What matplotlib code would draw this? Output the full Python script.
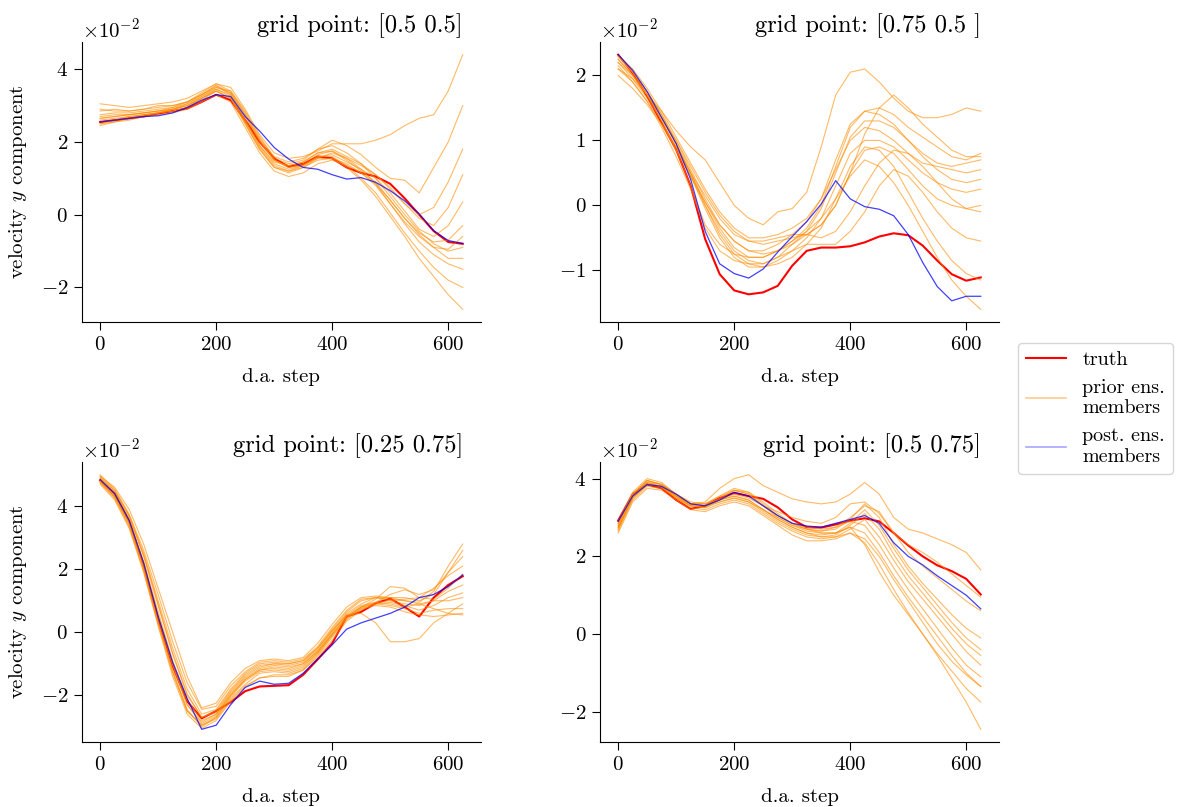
import numpy as np
import matplotlib
matplotlib.use("Agg")
import matplotlib.pyplot as plt
from matplotlib.lines import Line2D

plt.rcParams["font.family"] = "serif"
plt.rcParams["font.serif"] = ["cmr10"]
plt.rcParams["mathtext.fontset"] = "cm"
plt.rcParams["axes.formatter.use_mathtext"] = True
plt.rcParams["axes.unicode_minus"] = True

# d.a. steps (values read every 25 steps), velocities in units of 1e-2
steps = np.arange(0, 626, 25)

titles = ["grid point: [0.5 0.5]", "grid point: [0.75 0.5 ]",
          "grid point: [0.25 0.75]", "grid point: [0.5 0.75]"]
yticks = [[-2, 0, 2, 4], [-1, 0, 1, 2], [-2, 0, 2, 4], [-2, 0, 2, 4]]

# ---- grid point [0.5 0.5]
truth_a = [2.55, 2.6, 2.65, 2.7, 2.78, 2.85, 2.92, 3.1, 3.3, 3.15, 2.6, 2.0, 1.55,
           1.32, 1.4, 1.6, 1.55, 1.3, 1.15, 1.05, 0.85, 0.45, 0.0, -0.45, -0.75, -0.8]
post_a = [2.55, 2.6, 2.65, 2.7, 2.72, 2.8, 2.95, 3.15, 3.3, 3.25, 2.7, 2.3, 1.85,
          1.53, 1.3, 1.25, 1.1, 0.98, 1.02, 0.89, 0.66, 0.38, 0.02, -0.44, -0.71, -0.79]
prior_a = [
    [3.05, 3.0, 2.95, 3.0, 3.05, 3.1, 3.2, 3.4, 3.6, 3.5, 2.9, 2.2, 1.7, 1.55, 1.6, 1.75, 1.95, 1.95, 1.95, 2.05, 2.2, 2.45, 2.65, 2.75, 3.4, 4.4],
    [2.85, 2.9, 2.85, 2.9, 3.0, 3.0, 3.1, 3.3, 3.5, 3.4, 2.8, 2.1, 1.6, 1.45, 1.55, 1.8, 2.05, 1.9, 1.65, 1.3, 1.0, 0.95, 0.6, 1.3, 2.0, 3.0],
    [2.75, 2.8, 2.8, 2.85, 2.9, 2.95, 3.05, 3.3, 3.55, 3.3, 2.6, 1.9, 1.45, 1.35, 1.45, 1.7, 1.8, 1.6, 1.4, 1.1, 0.7, 0.3, 0.0, 0.2, 0.9, 1.8],
    [2.65, 2.7, 2.75, 2.8, 2.85, 2.9, 3.0, 3.25, 3.45, 3.3, 2.7, 2.0, 1.5, 1.3, 1.35, 1.55, 1.7, 1.55, 1.35, 1.1, 0.75, 0.3, -0.1, -0.3, 0.2, 1.1],
    [2.5, 2.6, 2.7, 2.75, 2.8, 2.85, 2.95, 3.2, 3.4, 3.2, 2.5, 1.8, 1.3, 1.2, 1.35, 1.6, 1.65, 1.45, 1.25, 1.0, 0.6, 0.1, -0.4, -0.6, -0.3, 0.35],
    [2.6, 2.65, 2.7, 2.75, 2.8, 2.9, 3.05, 3.25, 3.5, 3.35, 2.75, 2.05, 1.5, 1.35, 1.45, 1.7, 1.75, 1.5, 1.2, 0.9, 0.4, -0.1, -0.5, -0.75, -0.7, -0.3],
    [2.45, 2.55, 2.6, 2.7, 2.75, 2.8, 2.9, 3.1, 3.3, 3.1, 2.4, 1.7, 1.2, 1.05, 1.15, 1.4, 1.5, 1.35, 1.15, 0.8, 0.3, -0.2, -0.6, -0.9, -0.95, -0.6],
    [2.7, 2.75, 2.75, 2.8, 2.85, 2.95, 3.1, 3.35, 3.6, 3.4, 2.85, 2.15, 1.55, 1.4, 1.5, 1.8, 1.9, 1.7, 1.4, 1.0, 0.5, 0.0, -0.45, -0.8, -1.0, -0.9],
    [2.55, 2.6, 2.65, 2.7, 2.8, 2.85, 2.95, 3.15, 3.4, 3.2, 2.55, 1.85, 1.35, 1.2, 1.3, 1.5, 1.55, 1.4, 1.15, 0.85, 0.4, -0.1, -0.55, -0.9, -1.2, -1.2],
    [2.9, 2.85, 2.85, 2.9, 2.95, 3.0, 3.1, 3.3, 3.55, 3.35, 2.75, 2.05, 1.5, 1.3, 1.4, 1.65, 1.75, 1.55, 1.25, 0.85, 0.3, -0.25, -0.75, -1.1, -1.35, -1.5],
    [2.65, 2.7, 2.75, 2.8, 2.85, 2.9, 3.0, 3.2, 3.45, 3.25, 2.6, 1.9, 1.4, 1.25, 1.35, 1.6, 1.6, 1.35, 1.0, 0.6, 0.05, -0.5, -1.0, -1.45, -1.8, -2.0],
    [2.5, 2.55, 2.65, 2.75, 2.8, 2.9, 3.0, 3.2, 3.4, 3.2, 2.5, 1.8, 1.3, 1.15, 1.3, 1.55, 1.55, 1.3, 0.95, 0.5, -0.05, -0.6, -1.2, -1.7, -2.2, -2.6],
]

# ---- grid point [0.75 0.5 ]
truth_b = [2.32, 2.04, 1.68, 1.27, 0.86, 0.3, -0.52, -1.06, -1.31, -1.37, -1.34, -1.24, -0.93,
           -0.7, -0.65, -0.65, -0.63, -0.57, -0.48, -0.43, -0.46, -0.62, -0.85, -1.06, -1.16, -1.11]
post_b = [2.32, 2.08, 1.75, 1.35, 0.95, 0.4, -0.4, -0.9, -1.05, -1.12, -0.98, -0.72, -0.48,
          -0.25, 0.02, 0.38, 0.1, -0.02, -0.06, -0.16, -0.45, -0.88, -1.25, -1.47, -1.4, -1.4]
prior_b = [
    [2.1, 1.95, 1.7, 1.45, 1.15, 0.9, 0.7, 0.35, 0.0, -0.2, -0.3, -0.1, -0.05, 0.2, 0.9, 1.7, 2.05, 2.1, 1.9, 1.65, 1.45, 1.35, 1.35, 1.4, 1.5, 1.45],
    [2.2, 2.0, 1.7, 1.35, 1.0, 0.6, 0.2, -0.15, -0.4, -0.55, -0.6, -0.55, -0.5, -0.45, -0.3, 0.0, 0.5, 1.1, 1.5, 1.7, 1.5, 1.25, 1.05, 0.85, 0.75, 0.75],
    [2.3, 2.05, 1.75, 1.4, 1.0, 0.55, 0.1, -0.3, -0.55, -0.7, -0.7, -0.6, -0.45, -0.25, 0.1, 0.7, 1.25, 1.45, 1.5, 1.4, 1.2, 1.05, 0.9, 0.75, 0.7, 0.8],
    [2.25, 2.0, 1.7, 1.35, 0.95, 0.5, 0.05, -0.35, -0.65, -0.8, -0.8, -0.7, -0.55, -0.35, 0.0, 0.6, 1.2, 1.45, 1.4, 1.25, 1.0, 0.75, 0.55, 0.4, 0.35, 0.4],
    [2.2, 1.95, 1.65, 1.3, 0.9, 0.45, 0.0, -0.4, -0.7, -0.85, -0.9, -0.8, -0.6, -0.4, -0.05, 0.5, 1.05, 1.3, 1.3, 1.2, 1.0, 0.8, 0.65, 0.6, 0.65, 0.7],
    [2.3, 2.05, 1.75, 1.4, 0.95, 0.45, -0.05, -0.5, -0.8, -0.95, -0.95, -0.85, -0.7, -0.5, -0.2, 0.3, 0.8, 1.0, 1.0, 0.9, 0.7, 0.5, 0.35, 0.25, 0.2, 0.25],
    [2.15, 1.9, 1.6, 1.25, 0.85, 0.45, 0.05, -0.3, -0.55, -0.7, -0.75, -0.7, -0.6, -0.45, -0.3, 0.0, 0.5, 0.85, 0.9, 0.8, 0.55, 0.3, 0.1, 0.0, -0.05, 0.0],
    [2.0, 1.8, 1.55, 1.25, 0.9, 0.5, 0.15, -0.2, -0.45, -0.55, -0.55, -0.5, -0.45, -0.45, -0.5, -0.4, -0.1, 0.3, 0.65, 0.85, 0.8, 0.6, 0.35, 0.1, -0.05, -0.1],
    [2.25, 2.0, 1.7, 1.35, 0.95, 0.5, 0.0, -0.45, -0.75, -0.9, -0.9, -0.8, -0.7, -0.6, -0.6, -0.6, -0.4, -0.1, 0.3, 0.55, 0.45, 0.2, -0.1, -0.35, -0.5, -0.55],
    [2.3, 2.05, 1.7, 1.3, 0.85, 0.3, -0.3, -0.6, -0.75, -0.8, -0.8, -0.7, -0.55, -0.4, -0.2, 0.1, 0.45, 0.7, 0.6, 0.35, 0.0, -0.4, -0.8, -1.15, -1.4, -1.6],
    [2.1, 1.9, 1.6, 1.2, 0.75, 0.25, -0.35, -0.7, -0.85, -0.9, -0.95, -0.9, -0.8, -0.6, -0.35, 0.1, 0.6, 0.9, 0.85, 0.6, 0.2, -0.2, -0.55, -0.85, -1.05, -1.15],
    [2.3, 2.1, 1.8, 1.45, 1.05, 0.65, 0.25, -0.1, -0.35, -0.5, -0.5, -0.45, -0.35, -0.2, 0.1, 0.55, 1.0, 1.2, 1.15, 1.0, 0.8, 0.65, 0.6, 0.55, 0.5, 0.55],
]

# ---- grid point [0.25 0.75]
truth_c = [4.82, 4.4, 3.53, 2.14, 0.43, -1.07, -2.19, -2.73, -2.5, -2.22, -1.87, -1.72, -1.7,
           -1.68, -1.35, -0.86, -0.35, 0.5, 0.65, 0.92, 1.07, 0.8, 0.5, 1.1, 1.5, 1.78]
post_c = [4.85, 4.4, 3.55, 2.2, 0.5, -0.95, -2.1, -3.08, -2.95, -2.3, -1.75, -1.55, -1.65,
          -1.62, -1.3, -0.85, -0.4, 0.1, 0.3, 0.45, 0.6, 0.8, 1.1, 1.2, 1.45, 1.82]
prior_c = [
    [4.95, 4.5, 3.7, 2.5, 1.0, -0.5, -1.8, -2.6, -2.45, -1.8, -1.3, -1.0, -0.95, -1.0, -0.9, -0.5, 0.1, 0.65, 1.0, 1.1, 1.05, 1.0, 0.95, 1.3, 2.1, 2.8],
    [4.85, 4.35, 3.5, 2.15, 0.5, -1.05, -2.3, -2.85, -2.6, -2.0, -1.5, -1.2, -1.1, -1.15, -1.0, -0.6, 0.0, 0.6, 0.9, 1.1, 1.1, 1.1, 1.0, 1.2, 1.9, 2.6],
    [4.75, 4.25, 3.35, 1.95, 0.25, -1.3, -2.5, -2.95, -2.75, -2.15, -1.7, -1.45, -1.4, -1.4, -1.2, -0.75, -0.15, 0.4, 0.75, 0.95, 1.2, 1.35, 1.2, 1.35, 1.9, 2.4],
    [4.9, 4.45, 3.65, 2.4, 0.85, -0.7, -2.0, -2.7, -2.55, -1.9, -1.4, -1.1, -1.0, -1.05, -0.95, -0.55, 0.05, 0.55, 0.85, 0.95, 1.0, 1.05, 1.1, 1.4, 1.8, 2.1],
    [4.8, 4.3, 3.45, 2.05, 0.35, -1.2, -2.45, -3.0, -2.7, -2.1, -1.65, -1.3, -1.25, -1.3, -1.15, -0.7, -0.1, 0.45, 0.8, 1.05, 1.45, 1.4, 1.1, 1.05, 1.4, 1.85],
    [5.0, 4.55, 3.75, 2.6, 1.2, -0.3, -1.6, -2.45, -2.35, -1.7, -1.25, -0.95, -0.9, -0.95, -0.85, -0.45, 0.15, 0.7, 1.05, 1.1, 1.0, 0.9, 0.85, 1.0, 1.3, 1.5],
    [4.7, 4.2, 3.3, 1.9, 0.2, -1.4, -2.6, -3.05, -2.8, -2.2, -1.75, -1.45, -1.35, -1.35, -1.2, -0.8, -0.25, 0.35, 0.7, 0.9, 0.95, 0.85, 0.7, 0.85, 1.1, 1.25],
    [4.85, 4.4, 3.55, 2.25, 0.65, -0.9, -2.15, -2.8, -2.6, -1.95, -1.45, -1.15, -1.05, -1.1, -1.0, -0.6, -0.05, 0.5, 0.8, 0.95, 0.9, 0.8, 0.9, 1.0, 1.0, 1.1],
    [4.9, 4.5, 3.7, 2.45, 0.9, -0.65, -1.95, -2.7, -2.5, -1.85, -1.35, -1.05, -1.0, -1.0, -0.9, -0.5, 0.05, 0.55, 0.6, 0.3, -0.3, -0.3, -0.2, 0.3, 0.6, 0.9],
    [4.8, 4.3, 3.4, 2.0, 0.3, -1.25, -2.5, -2.95, -2.7, -2.05, -1.55, -1.25, -1.2, -1.25, -1.1, -0.65, -0.05, 0.5, 0.8, 0.9, 0.85, 0.75, 0.6, 0.7, 0.75, 0.75],
    [4.75, 4.3, 3.5, 2.2, 0.55, -1.0, -2.3, -2.9, -2.65, -2.0, -1.5, -1.2, -1.15, -1.2, -1.05, -0.65, -0.1, 0.45, 0.75, 0.85, 0.8, 0.65, 0.55, 0.5, 0.55, 0.6],
    [4.95, 4.6, 3.9, 2.8, 1.4, 0.0, -1.4, -2.4, -2.25, -1.6, -1.15, -0.9, -0.85, -0.9, -0.8, -0.35, 0.25, 0.8, 1.1, 1.15, 1.1, 1.0, 0.9, 0.75, 0.6, 0.55],
]

# ---- grid point [0.5 0.75]
truth_d = [2.92, 3.6, 3.85, 3.75, 3.45, 3.22, 3.3, 3.5, 3.63, 3.55, 3.48, 3.26, 2.95,
           2.75, 2.74, 2.82, 2.92, 2.98, 2.9, 2.6, 2.28, 2.0, 1.77, 1.62, 1.42, 1.02]
post_d = [2.9, 3.55, 3.85, 3.8, 3.6, 3.35, 3.3, 3.45, 3.65, 3.55, 3.3, 3.05, 2.85,
          2.78, 2.75, 2.85, 2.95, 3.05, 2.85, 2.35, 2.0, 1.78, 1.5, 1.25, 1.0, 0.65]
prior_d = [
    [2.75, 3.5, 3.9, 3.85, 3.6, 3.35, 3.4, 3.75, 4.0, 4.1, 3.82, 3.65, 3.48, 3.4, 3.35, 3.4, 3.6, 3.9, 3.6, 3.0, 2.7, 2.6, 2.45, 2.3, 2.1, 1.65],
    [2.85, 3.6, 3.95, 3.85, 3.6, 3.35, 3.3, 3.45, 3.6, 3.5, 3.3, 3.15, 3.0, 2.9, 2.85, 3.0, 3.35, 3.4, 3.1, 2.6, 2.3, 2.1, 1.85, 1.55, 1.25, 0.95],
    [2.7, 3.5, 3.85, 3.8, 3.55, 3.3, 3.25, 3.45, 3.7, 3.65, 3.4, 3.1, 2.85, 2.7, 2.65, 2.75, 3.0, 3.3, 3.15, 2.6, 2.1, 1.75, 1.45, 1.15, 0.85, 0.6],
    [2.8, 3.55, 3.9, 3.8, 3.5, 3.3, 3.3, 3.5, 3.7, 3.6, 3.3, 3.0, 2.8, 2.7, 2.65, 2.7, 2.95, 3.35, 3.0, 2.3, 1.75, 1.3, 0.9, 0.5, 0.15, -0.1],
    [2.9, 3.65, 4.0, 3.9, 3.6, 3.35, 3.3, 3.45, 3.55, 3.45, 3.2, 2.95, 2.75, 2.6, 2.55, 2.6, 2.85, 3.2, 2.8, 2.2, 1.65, 1.2, 0.75, 0.3, -0.1, -0.4],
    [2.75, 3.5, 3.85, 3.8, 3.55, 3.3, 3.25, 3.4, 3.5, 3.4, 3.15, 2.9, 2.7, 2.55, 2.5, 2.55, 2.8, 3.1, 2.7, 2.05, 1.5, 1.05, 0.6, 0.15, -0.25, -0.55],
    [2.65, 3.45, 3.8, 3.75, 3.5, 3.25, 3.2, 3.35, 3.45, 3.35, 3.1, 2.85, 2.65, 2.5, 2.45, 2.5, 2.7, 2.95, 2.5, 1.9, 1.35, 0.9, 0.45, 0.0, -0.45, -0.8],
    [2.8, 3.6, 3.95, 3.85, 3.55, 3.35, 3.35, 3.55, 3.75, 3.65, 3.35, 3.05, 2.85, 2.75, 2.7, 2.75, 2.9, 2.8, 2.3, 1.7, 1.15, 0.65, 0.15, -0.35, -0.8, -1.1],
    [2.7, 3.5, 3.85, 3.8, 3.5, 3.3, 3.3, 3.4, 3.5, 3.4, 3.2, 3.0, 2.8, 2.65, 2.6, 2.6, 2.75, 2.6, 2.1, 1.5, 0.95, 0.45, -0.05, -0.55, -1.0, -1.35],
    [2.85, 3.6, 3.95, 3.85, 3.6, 3.4, 3.35, 3.45, 3.55, 3.45, 3.2, 2.95, 2.75, 2.6, 2.5, 2.5, 2.6, 2.35, 1.8, 1.15, 0.55, 0.0, -0.5, -0.95, -1.4, -1.75],
    [2.75, 3.55, 3.9, 3.8, 3.55, 3.35, 3.35, 3.55, 3.7, 3.6, 3.3, 3.05, 2.85, 2.7, 2.6, 2.6, 2.75, 2.3, 1.6, 1.0, 0.5, 0.0, -0.55, -1.15, -1.75, -2.45],
    [2.6, 3.4, 3.75, 3.7, 3.45, 3.2, 3.15, 3.3, 3.4, 3.3, 3.05, 2.8, 2.55, 2.4, 2.4, 2.45, 2.6, 2.45, 2.0, 1.4, 0.85, 0.3, -0.25, -0.7, -1.05, -1.35],
]

truths = [truth_a, truth_b, truth_c, truth_d]
posts = [post_a, post_b, post_c, post_d]
priors = [prior_a, prior_b, prior_c, prior_d]

fig = plt.figure(figsize=(11.8, 8.07), dpi=100)
boxes = [[0.0695, 0.601, 0.338, 0.347], [0.5085, 0.601, 0.338, 0.347],
         [0.0695, 0.0805, 0.338, 0.347], [0.5085, 0.0805, 0.338, 0.347]]

for i in range(4):
    ax = fig.add_axes(boxes[i])
    ax.plot(steps, np.array(truths[i]) * 1e-2, color="red", lw=1.5, zorder=2)
    for member in priors[i]:
        ax.plot(steps, np.array(member) * 1e-2, color="darkorange", lw=0.8, alpha=0.6, zorder=3)
    ax.plot(steps, np.array(posts[i]) * 1e-2, color="blue", lw=0.9, alpha=0.75, zorder=4)

    ax.set_yticks(np.array(yticks[i]) * 1e-2)
    ax.set_xticks([0, 200, 400, 600])
    ax.ticklabel_format(axis="y", style="sci", scilimits=(0, 0))
    ax.tick_params(labelsize=15, length=5.5, pad=4.5)
    ax.yaxis.get_offset_text().set_fontsize(15)
    ax.set_xlabel("d.a. step", fontsize=15, labelpad=10)
    if i % 2 == 0:
        ax.set_ylabel("velocity $y$ component", fontsize=15, labelpad=8)
    ax.spines["top"].set_visible(False)
    ax.spines["right"].set_visible(False)
    ax.text(0.955, 1.036, titles[i], transform=ax.transAxes, ha="right",
            va="baseline", fontsize=17.7)

handles = [Line2D([], [], color="red", lw=1.5),
           Line2D([], [], color="darkorange", lw=1.2, alpha=0.45),
           Line2D([], [], color="blue", lw=1.2, alpha=0.35)]
fig.legend(handles, ["truth", "prior ens.\nmembers", "post. ens.\nmembers"],
           loc="center left", bbox_to_anchor=(0.854, 0.494), fontsize=14.5)

fig.savefig("out.png", dpi=100)
